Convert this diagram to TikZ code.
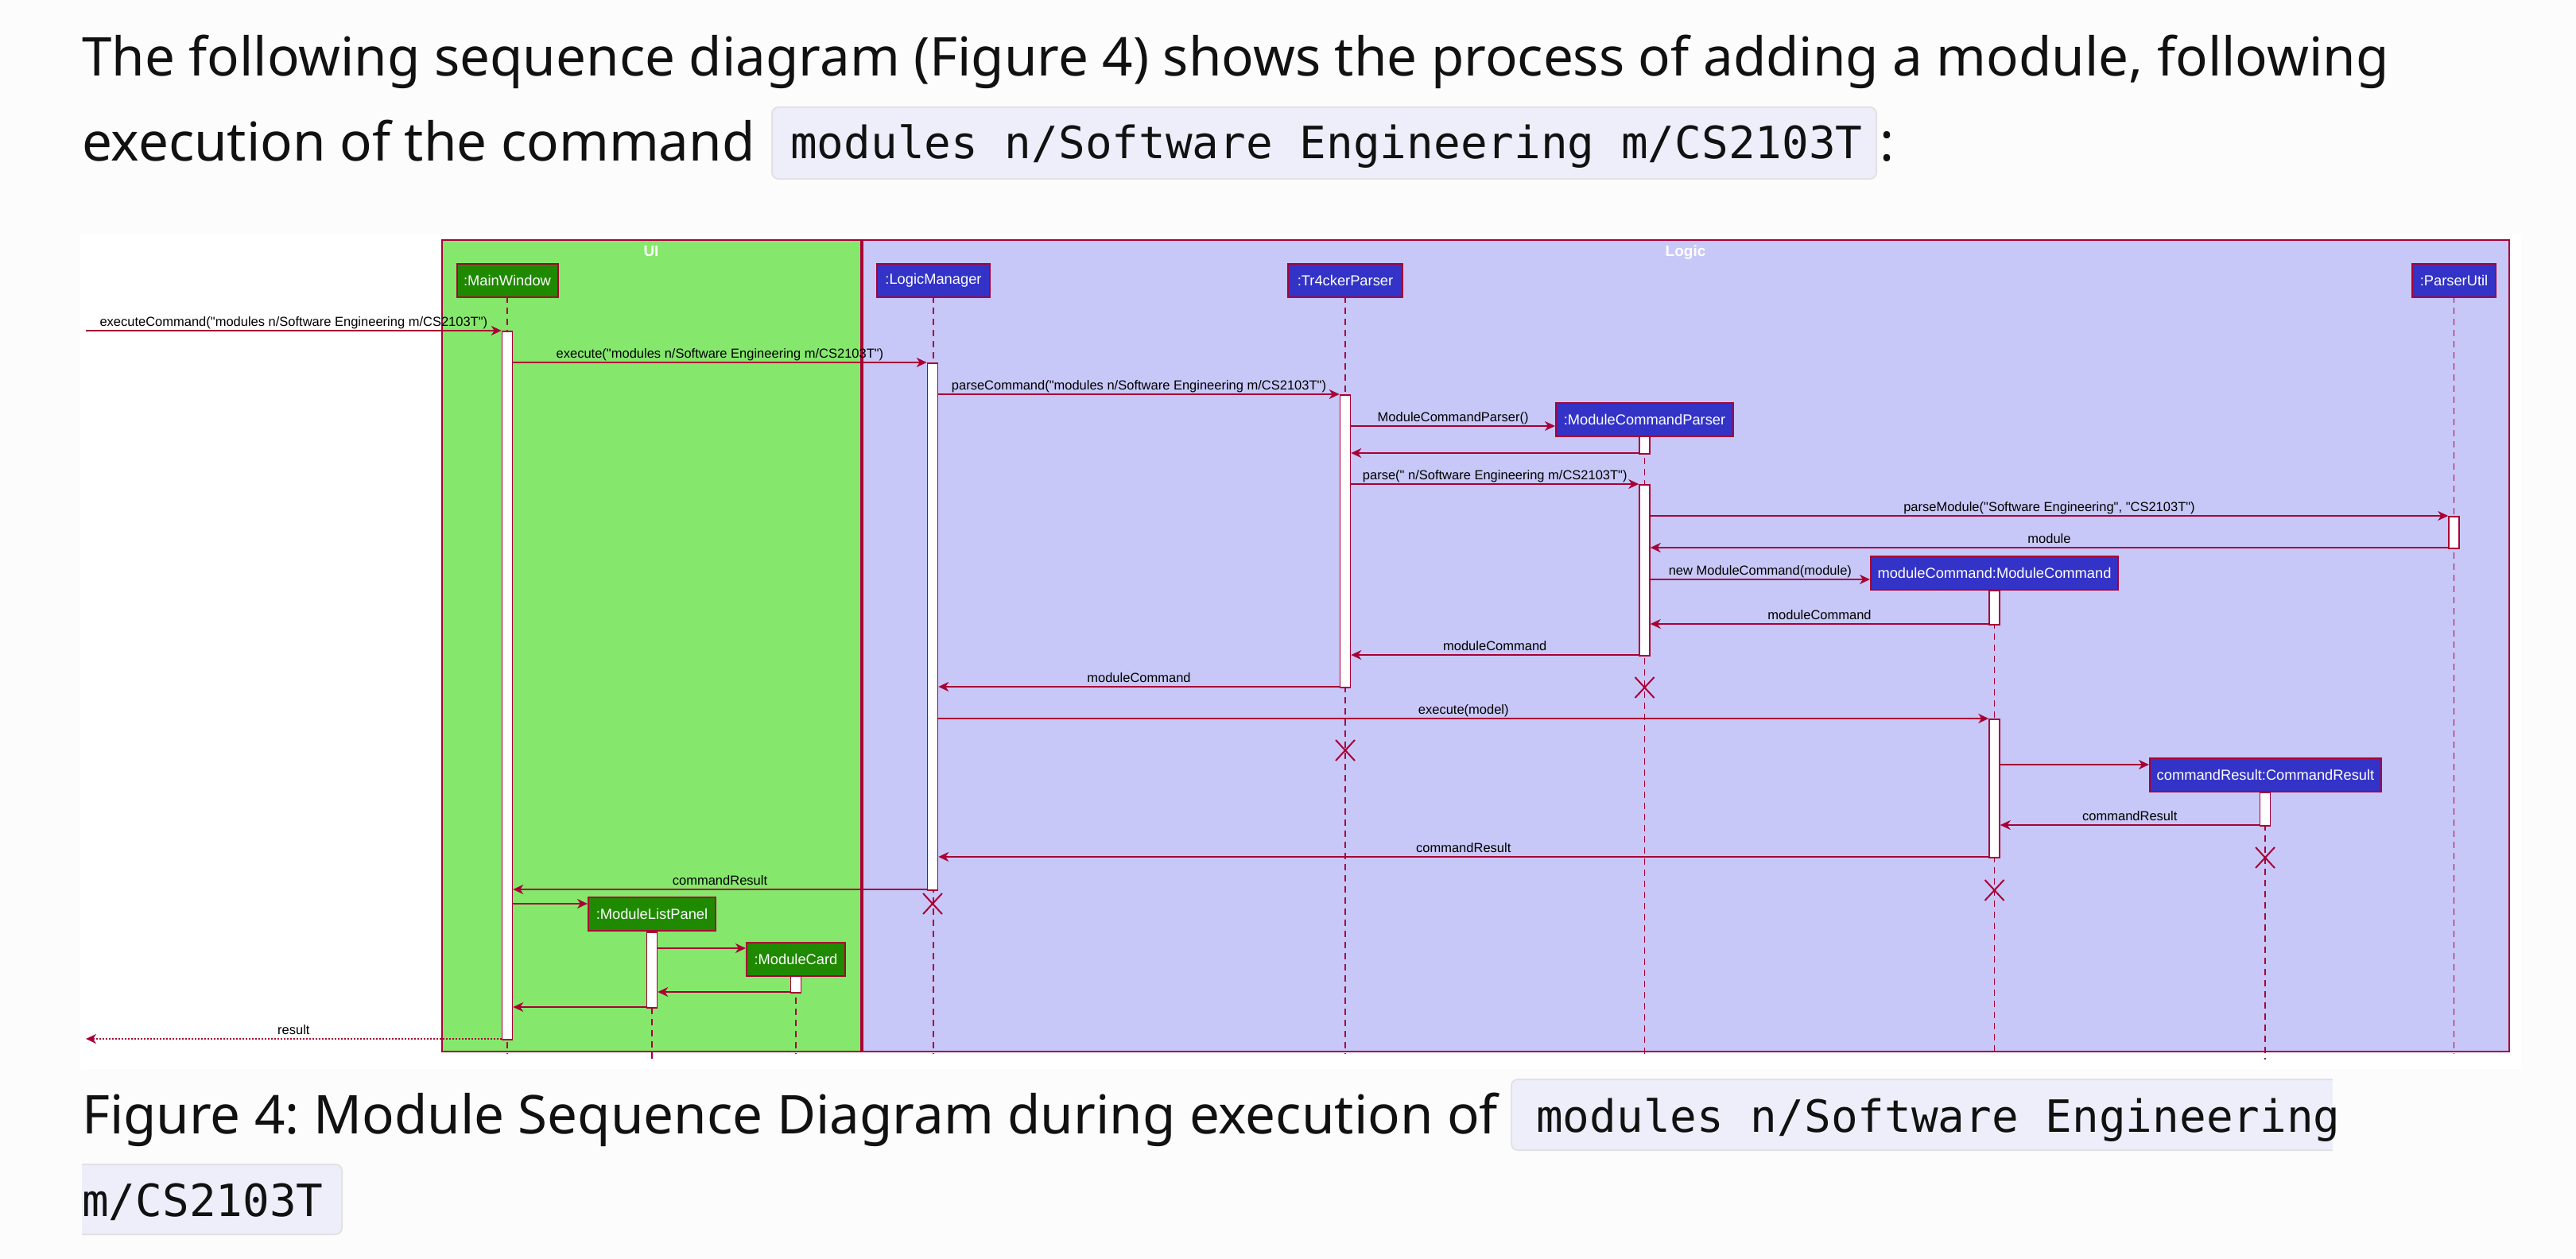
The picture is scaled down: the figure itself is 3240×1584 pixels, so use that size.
\documentclass[tikz,border=0pt]{standalone}
\usepackage{fontspec}
\setmainfont{Noto Sans}
\newfontfamily\dfont{Liberation Sans}
\newfontfamily\codefont{DejaVu Sans Mono}
\usetikzlibrary{arrows.meta}
\definecolor{crim}{HTML}{A80036}
\definecolor{uifill}{HTML}{85E86C}
\definecolor{logfill}{HTML}{C8C8F8}
\definecolor{pgreen}{HTML}{1F8A00}
\definecolor{pblue}{HTML}{3333C8}
\definecolor{pagebg}{HTML}{FCFCFC}
\definecolor{codebg}{HTML}{EEEEFB}
\definecolor{codeborder}{HTML}{E2E2E6}
\definecolor{bodyink}{HTML}{111111}
\frenchspacing
\begin{document}
\begin{tikzpicture}[x=1pt,y=-1pt,
  partbox/.style={draw=crim, line width=2pt, text=white, font=\dfont\fontsize{18.3}{20}\selectfont, minimum height=42pt, inner sep=0pt, anchor=north},
  uipart/.style={partbox, fill=pgreen},
  lgpart/.style={partbox, fill=pblue},
  actbar/.style={draw=crim, fill=white, line width=1.5pt, minimum width=13pt, inner sep=0pt, anchor=north},
  lifeline/.style={draw=crim, line width=1.5pt, dash pattern=on 8pt off 6pt},
  msg/.style={draw=crim, line width=2pt, -{Stealth[length=13pt,width=12pt,inset=4pt]}},
  dotmsg/.style={msg, dash pattern=on 2pt off 2pt},
  lbl/.style={font=\dfont\fontsize{16.5}{18}\selectfont, text=black, anchor=base, inner sep=0pt, yshift=6pt},
  destroy/.style={draw=crim, line width=2pt},
  frametitle/.style={font=\dfont\bfseries\fontsize{19}{21}\selectfont, text=white, anchor=base, inner sep=0pt},
  bodytxt/.style={font=\fontsize{67.3}{80}\selectfont, anchor=base west, inner sep=0pt, text=bodyink},
  codetxt/.style={font=\codefont\fontsize{56}{60}\selectfont, anchor=base west, inner sep=0pt, text=bodyink},
  codebox/.style={fill=codebg, draw=codeborder, line width=2pt, rounded corners=8pt}
]
% page
\fill[pagebg] (0,0) rectangle (3240,1584);
\useasboundingbox (0,0) rectangle (3240,1584);

% intro text
\node[bodytxt] (t1) at (103,96) {The following sequence diagram (Figure 4) shows the process of adding a module, following};
\node[bodytxt] (t2) at (103,202) {execution of the command};
\draw[codebox] (971,135) rectangle (2360,225);
\node[codetxt] (c1) at (994,200) {modules n/Software Engineering m/CS2103T};
\node[bodytxt] (t3) at (2364,202) {:};

% caption
\node[bodytxt] (f1) at (103,1426) {Figure 4: Module Sequence Diagram during execution of};
\draw[codebox] (1901,1358) rectangle (2950,1447);
\fill[pagebg] (2934,1350) rectangle (2960,1455);
\node[codetxt] (c2) at (1932,1424) {modules n/Software Engineering};
\draw[codebox] (85,1465) rectangle (430,1553);
\fill[pagebg] (80,1458) rectangle (103,1560);
\node[codetxt] (c3) at (103,1530) {m/CS2103T};

% diagram area
\fill[white] (101,295) rectangle (3171,1345);
\draw[draw=crim, line width=2pt, fill=uifill] (556,302) rectangle (1083,1323);
\draw[draw=crim, line width=2pt, fill=logfill] (1085,302) rectangle (3156,1323);
\node[frametitle] (uit) at (819,322) {UI};
\node[frametitle] (lgt) at (2120,322) {Logic};

% lifelines
\draw[lifeline] (638,373) -- (638,1326);
\draw[lifeline] (1174,373) -- (1174,1326);
\draw[lifeline] (1692,373) -- (1692,1326);
\draw[lifeline] (2068.5,548) -- (2068.5,1326);
\draw[lifeline] (3086.5,373) -- (3086.5,1326);
\draw[lifeline] (2508.5,741) -- (2508.5,1326);
\draw[lifeline] (2849,995) -- (2849,1333);
\draw[lifeline] (820,1170) -- (820,1333);
\draw[lifeline] (1001,1227) -- (1001,1326);

% participants
\node[uipart, minimum width=127pt] (mw) at (638,331) {:MainWindow};
\node[lgpart, minimum width=142pt] (lm) at (1174,331) {:LogicManager};
\node[lgpart, minimum width=144pt] (tp) at (1692,331) {:Tr4ckerParser};
\node[lgpart, minimum width=223pt] (mcp) at (2068.5,506) {:ModuleCommandParser};
\node[lgpart, minimum width=105pt] (pu) at (3086.5,331) {:ParserUtil};
\node[lgpart, minimum width=311pt] (mc) at (2508.5,699) {moduleCommand:ModuleCommand};
\node[lgpart, minimum width=291pt] (cr) at (2849.5,953) {commandResult:CommandResult};
\node[uipart, minimum width=160pt] (mlp) at (820,1128) {:ModuleListPanel};
\node[uipart, minimum width=124pt] (mcard) at (1001,1185) {:ModuleCard};

% activation bars
\node[actbar, minimum height=891pt] (mwbar) at (638,416) {};
\node[actbar, minimum height=663pt] (lmbar) at (1173,456) {};
\node[actbar, minimum height=368pt] (tpbar) at (1692,496) {};
\node[actbar, minimum height=22pt] (mcpbarA) at (2068.5,548) {};
\node[actbar, minimum height=215pt] (mcpbarB) at (2068.5,609) {};
\node[actbar, minimum height=40pt] (pubar) at (3086.5,649) {};
\node[actbar, minimum height=43pt] (mcbarA) at (2508.5,742) {};
\node[actbar, minimum height=174pt] (mcbarB) at (2508.5,904) {};
\node[actbar, minimum height=42pt] (crbar) at (2849,996) {};
\node[actbar, minimum height=95pt] (mlpbar) at (820,1172) {};
\node[actbar, minimum height=21pt] (mcardbar) at (1001,1227) {};

% free ends
\coordinate (extin) at (108,416);
\coordinate (extout) at (108,1307);

% messages
\draw[msg] (extin) -- node[lbl] (l1) {executeCommand("modules n/Software Engineering m/CS2103T")} (mwbar.west |- 0,416);
\draw[msg] (mwbar.east |- 0,456) -- node[lbl] (l2) {execute("modules n/Software Engineering m/CS2103T")} (lmbar.west |- 0,456);
\draw[msg] (lmbar.east |- 0,496) -- node[lbl] (l3) {parseCommand("modules n/Software Engineering m/CS2103T")} (tpbar.west |- 0,496);
\draw[msg] (tpbar.east |- 0,536) -- node[lbl] (l4) {ModuleCommandParser()} (mcp.west |- 0,536);
\draw[msg] (mcpbarA.west |- 0,570) -- (tpbar.east |- 0,570);
\draw[msg] (tpbar.east |- 0,609) -- node[lbl] (l6) {parse(" n/Software Engineering m/CS2103T")} (mcpbarB.west |- 0,609);
\draw[msg] (mcpbarB.east |- 0,649) -- node[lbl] (l7) {parseModule("Software Engineering", "CS2103T")} (pubar.west |- 0,649);
\draw[msg] (pubar.west |- 0,689) -- node[lbl] (l8) {module} (mcpbarB.east |- 0,689);
\draw[msg] (mcpbarB.east |- 0,729) -- node[lbl] (l9) {new ModuleCommand(module)} (mc.west |- 0,729);
\draw[msg] (mcbarA.west |- 0,785) -- node[lbl] (l10) {moduleCommand} (mcpbarB.east |- 0,785);
\draw[msg] (mcpbarB.west |- 0,824) -- node[lbl] (l11) {moduleCommand} (tpbar.east |- 0,824);
\draw[msg] (tpbar.west |- 0,864) -- node[lbl] (l12) {moduleCommand} (lmbar.east |- 0,864);
\draw[msg] (lmbar.east |- 0,904) -- node[lbl] (l13) {execute(model)} (mcbarB.west |- 0,904);
\draw[msg] (mcbarB.east |- 0,962) -- (cr.west |- 0,962);
\draw[msg] (crbar.west |- 0,1038) -- node[lbl] (l15) {commandResult} (mcbarB.east |- 0,1038);
\draw[msg] (mcbarB.west |- 0,1078) -- node[lbl] (l16) {commandResult} (lmbar.east |- 0,1078);
\draw[msg] (lmbar.west |- 0,1119) -- node[lbl] (l17) {commandResult} (mwbar.east |- 0,1119);
\draw[msg] (mwbar.east |- 0,1137) -- (mlp.west |- 0,1137);
\draw[msg] (mlpbar.east |- 0,1193) -- (mcard.west |- 0,1193);
\draw[msg] (mcardbar.west |- 0,1248) -- (mlpbar.east |- 0,1248);
\draw[msg] (mlpbar.west |- 0,1267) -- (mwbar.east |- 0,1267);
\draw[dotmsg] (mwbar.west |- 0,1307) -- node[lbl] (l22) {result} (extout);

% destruction marks
\foreach \cx/\cy in {2068.5/865, 1692/944, 2849/1079, 2508.5/1120, 1173/1137}{
  \draw[destroy] (\cx-12,\cy-13) -- (\cx+12,\cy+13);
  \draw[destroy] (\cx+12,\cy-13) -- (\cx-12,\cy+13);
}
\end{tikzpicture}
\end{document}
